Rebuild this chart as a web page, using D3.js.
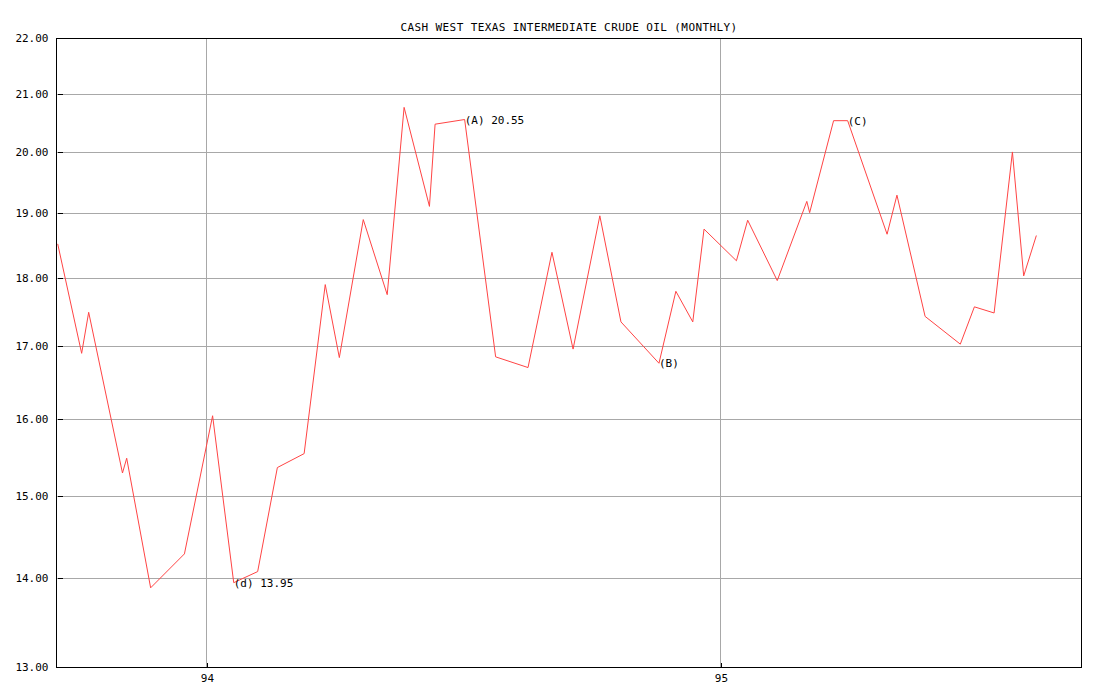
<!DOCTYPE html>
<html>
<head>
<meta charset="utf-8">
<script src="https://cdn.jsdelivr.net/npm/d3@7"></script>
<style>
  html, body { margin: 0; padding: 0; background: #fff; }
  svg { display: block; }
  text { font-family: "DejaVu Sans Mono", "Liberation Mono", monospace; font-size: 11px; fill: #000; }
</style>
</head>
<body>
<svg id="chart" width="1104" height="696"></svg>
<script>
const title = "CASH WEST TEXAS INTERMEDIATE CRUDE OIL (MONTHLY)";

const dates = [
  "1993-09-17","1993-10-04","1993-10-09","1993-11-02","1993-11-05","1993-11-22",
  "1993-12-16","1994-01-05","1994-01-20","1994-02-06","1994-02-20","1994-03-11",
  "1994-03-26","1994-04-05","1994-04-22","1994-05-09","1994-05-21","1994-06-08",
  "1994-06-12","1994-07-03","1994-07-25","1994-08-17","1994-09-03","1994-09-18",
  "1994-10-07","1994-10-22","1994-11-18","1994-11-30","1994-12-12","1994-12-20",
  "1995-01-12","1995-01-20","1995-02-10","1995-03-03","1995-03-05","1995-03-22",
  "1995-04-01","1995-04-29","1995-05-06","1995-05-26","1995-06-20","1995-06-30",
  "1995-07-14","1995-07-27","1995-08-04","1995-08-13"
];
const prices = [
  18.52, 16.90, 17.49, 15.29, 15.48, 13.89,
  14.29, 16.04, 13.95, 14.08, 15.36, 15.54,
  17.90, 16.84, 18.90, 17.75, 20.76, 19.11,
  20.47, 20.55, 16.85, 16.70, 18.39, 16.96,
  18.96, 17.35, 16.76, 17.80, 17.35, 18.75,
  18.26, 18.89, 17.96, 19.19, 19.01, 20.53,
  20.53, 18.67, 19.29, 17.43, 17.03, 17.57,
  17.48, 20.00, 18.03, 18.65
];

const yTicks = [13, 14, 15, 16, 17, 18, 19, 20, 21, 22];
const xTickDates = ["1994-01-01", "1995-01-01"];
const xTickLabels = ["94", "95"];

const noteIndex = [19, 8, 26, 36];
const noteText = ["(A) 20.55", "(d) 13.95", "(B)", "(C)"];

const parse = d3.timeParse("%Y-%m-%d");
const data = dates.map((d, i) => ({ date: parse(d), value: prices[i] }));

const mLeft = 57, mRight = 1081, mTop = 38, mBottom = 667;

const x = d3.scaleTime()
  .domain([new Date(1993, 8, 16, 12), new Date(1995, 8, 13, 17)])
  .range([mLeft, mRight]);
const y = d3.scaleLog()
  .domain([13, 22])
  .range([mBottom, mTop]);

const svg = d3.select("#chart");

// title
svg.append("text")
  .attr("x", (mLeft + mRight) / 2)
  .attr("y", 31)
  .attr("text-anchor", "middle")
  .style("letter-spacing", "0.4px")
  .text(title);

// gridlines
const grid = svg.append("g").attr("shape-rendering", "crispEdges");
grid.selectAll("line.h").data(yTicks.slice(1, -1)).join("line")
  .attr("class", "h")
  .attr("x1", mLeft).attr("x2", mRight)
  .attr("y1", d => Math.round(y(d)) + 0.5).attr("y2", d => Math.round(y(d)) + 0.5)
  .attr("stroke", "#a8a8a8");
grid.selectAll("line.v").data(xTickDates).join("line")
  .attr("class", "v")
  .attr("y1", mTop).attr("y2", mBottom)
  .attr("x1", d => Math.floor(x(parse(d))) + 0.5).attr("x2", d => Math.floor(x(parse(d))) + 0.5)
  .attr("stroke", "#a8a8a8");

// y axis (ticks inward)
const yAxis = d3.axisLeft(y)
  .tickValues(yTicks)
  .tickFormat(d3.format(".2f"))
  .tickSizeInner(-5)
  .tickSizeOuter(0)
  .tickPadding(9);
const gy = svg.append("g")
  .attr("transform", `translate(${mLeft + 0.5},0)`)
  .attr("shape-rendering", "crispEdges")
  .call(yAxis);
gy.select(".domain").remove();
gy.selectAll(".tick line").attr("stroke", "#000");
gy.selectAll(".tick text")
  .style("font-family", '"DejaVu Sans Mono", monospace')
  .style("font-size", "11px")
  .attr("fill", "#000");

// x axis (ticks inward)
const xAxis = d3.axisBottom(x)
  .tickValues(xTickDates.map(parse))
  .tickFormat((d, i) => xTickLabels[i])
  .tickSizeInner(-5)
  .tickSizeOuter(0)
  .tickPadding(7);
const gx = svg.append("g")
  .attr("transform", `translate(0,${mBottom + 0.5})`)
  .attr("shape-rendering", "crispEdges")
  .call(xAxis);
gx.select(".domain").remove();
gx.selectAll(".tick line").attr("stroke", "#000");
gx.selectAll(".tick text")
  .style("font-family", '"DejaVu Sans Mono", monospace')
  .style("font-size", "11px")
  .attr("fill", "#000");

// frame
svg.append("rect")
  .attr("x", mLeft - 0.5).attr("y", mTop + 0.5)
  .attr("width", mRight - mLeft + 1).attr("height", mBottom - mTop)
  .attr("fill", "none").attr("stroke", "#000")
  .attr("shape-rendering", "crispEdges");

// price line
const line = d3.line().x(d => x(d.date)).y(d => y(d.value));
svg.append("path")
  .datum(data)
  .attr("d", line)
  .attr("fill", "none")
  .attr("stroke", "#ff4444")
  .attr("stroke-width", 1);

// annotations
svg.selectAll("text.note").data(noteIndex).join("text")
  .attr("class", "note")
  .attr("x", d => x(data[d].date))
  .attr("y", d => y(data[d].value) + 4)
  .text((d, i) => noteText[i]);
</script>
</body>
</html>
